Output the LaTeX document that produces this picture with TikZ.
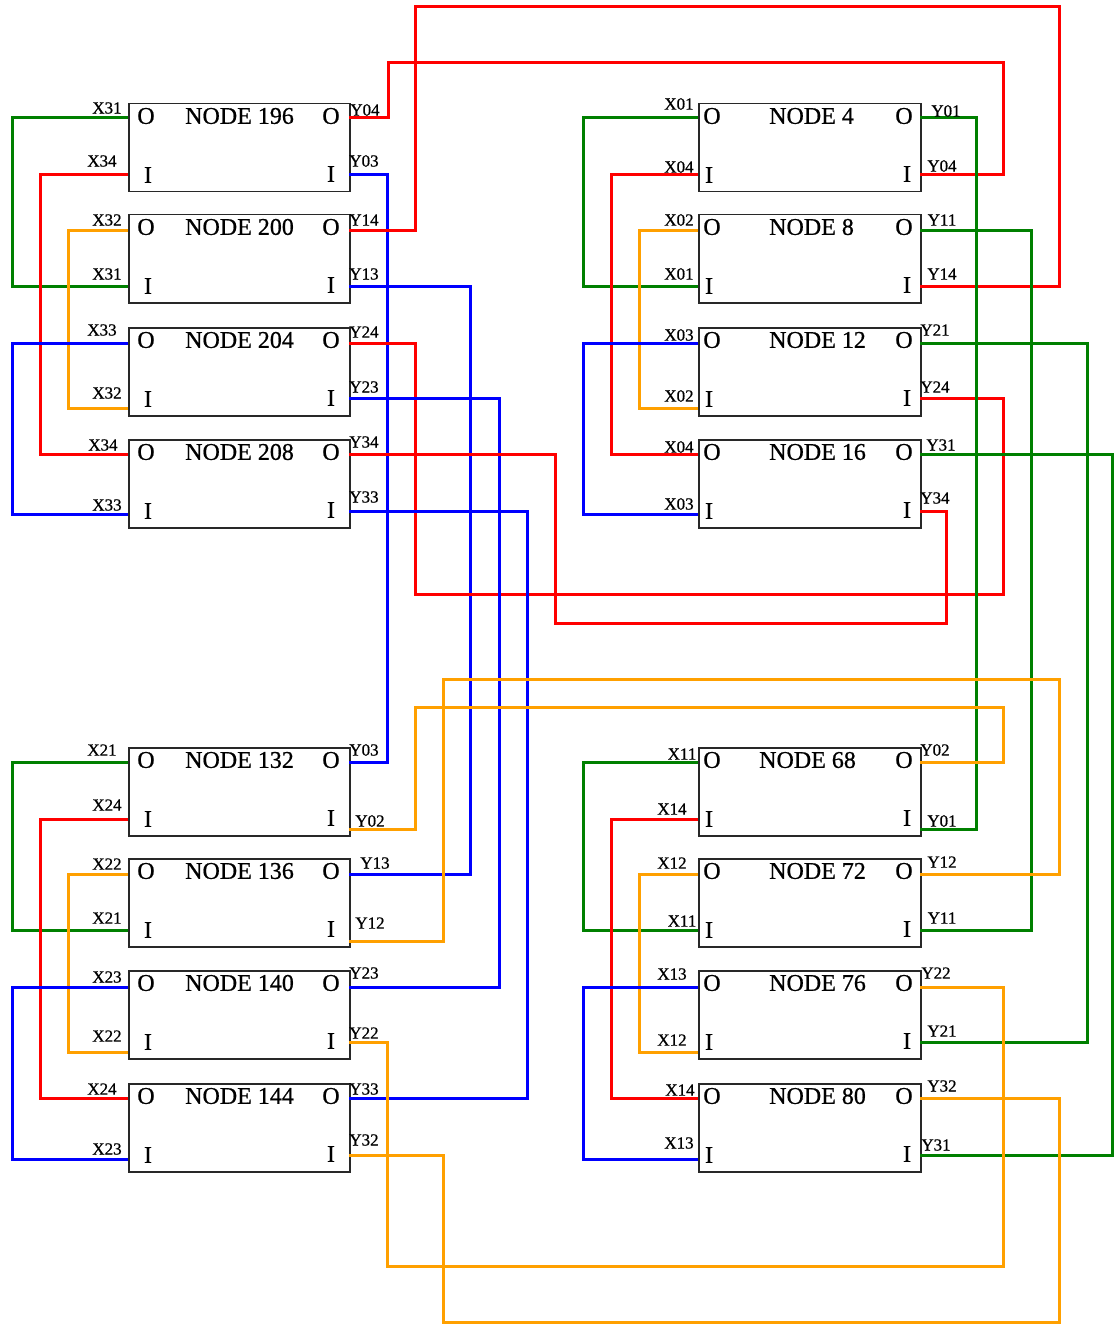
\documentclass[tikz,border=0pt]{standalone}
\usepackage{fontspec}
\setmainfont{Liberation Serif}
\newfontfamily\heavyfont{Liberation Serif}[FakeBold=0.7]
\definecolor{wred}{RGB}{255,0,0}
\definecolor{wgreen}{RGB}{0,128,0}
\definecolor{wblue}{RGB}{0,0,255}
\definecolor{worange}{RGB}{255,160,0}
\definecolor{boxc}{RGB}{40,40,40}
\tikzset{
  boxst/.style={draw=boxc, line width=1.5pt, fill=white, minimum height=88pt, inner sep=0pt, anchor=north west},
  big/.style={font=\heavyfont\fontsize{24}{28}\selectfont, inner sep=0pt},
  lab/.style={font=\heavyfont\fontsize{17}{20}\selectfont, inner sep=0pt},
  wire/.style={line width=3pt},
  wr/.style={wire, draw=wred},
  wg/.style={wire, draw=wgreen},
  wb/.style={wire, draw=wblue},
  wo/.style={wire, draw=worange}
}
% #1 name, #2 xl, #3 top, #4 width, #5 Oy, #6 ILy, #7 IRy, #8 title, #9 text x
\newcommand{\mkbox}[9]{%
  \node[boxst, minimum width=#4pt] (#1) at (#2,#3) {};
  \coordinate (#1OL) at (#2,#5);
  \coordinate (#1IL) at (#2,#6);
  \coordinate (#1OR) at (#2+#4,#5);
  \coordinate (#1IR) at (#2+#4,#7);
  \node[big, anchor=west] (#1t) at (#9,#3+13) {NODE #8};
  \node[big] (#1a) at (#2+\lo,#3+13) {O};
  \node[big] (#1b) at (#2+\li,#3+72) {I};
  \node[big] (#1c) at (#2+#4-\ro,#3+13) {O};
  \node[big] (#1d) at (#2+#4-\ri,#3+71) {I};
}
\begin{document}
\begin{tikzpicture}[x=1pt,y=-1pt]
\useasboundingbox (0,0) rectangle (1114,1324);
% ---- left column boxes
\def\lo{18}\def\li{20}\def\ro{18}\def\ri{18}
\mkbox{n196}{128}{103}{221}{118}{175}{175}{196}{185}
\mkbox{n200}{128}{214}{221}{231}{286}{286}{200}{185}
\mkbox{n204}{128}{327}{221}{343}{408}{398}{204}{185}
\mkbox{n208}{128}{439}{221}{454}{514}{511}{208}{185}
\mkbox{n132}{128}{747}{221}{762}{819}{829}{132}{185}
\mkbox{n136}{128}{858}{221}{874}{930}{941}{136}{185}
\mkbox{n140}{128}{970}{221}{987}{1052}{1042}{140}{185}
\mkbox{n144}{128}{1083}{221}{1098}{1159}{1155}{144}{185}
% ---- right column boxes
\def\lo{14}\def\li{11}\def\ro{16}\def\ri{13}
\mkbox{n4}{698}{103}{222}{118}{175}{175}{4}{769}
\mkbox{n8}{698}{214}{222}{231}{286}{286}{8}{769}
\mkbox{n12}{698}{327}{222}{343}{408}{398}{12}{769}
\mkbox{n16}{698}{439}{222}{454}{514}{511}{16}{769}
\mkbox{n68}{698}{747}{222}{762}{819}{829}{68}{759}
\mkbox{n72}{698}{858}{222}{874}{930}{930}{72}{769}
\mkbox{n76}{698}{970}{222}{987}{1052}{1042}{76}{769}
\mkbox{n80}{698}{1083}{222}{1098}{1159}{1155}{80}{769}

% ---- wires, left top group
\draw[wg] (n196OL) -| (12,286) -- (n200IL);
\draw[wr] (n196IL) -| (40,454) -- (n208OL);
\draw[wo] (n200OL) -| (68,408) -- (n204IL);
\draw[wb] (n204OL) -| (12,514) -- (n208IL);
\draw[wr] (n196OR) -| (388,63) -| (1003,175) -- (n4IR);
\draw[wb] (n196IR) -| (387,762) -- (n132OR);
\draw[wr] (n200OR) -| (415,7) -| (1059,286) -- (n8IR);
\draw[wb] (n200IR) -| (470,874) -- (n136OR);
\draw[wr] (n204OR) -| (415,594) -| (1003,398) -- (n12IR);
\draw[wb] (n204IR) -| (499,987) -- (n140OR);
\draw[wr] (n208OR) -| (555,623) -| (946,511) -- (n16IR);
\draw[wb] (n208IR) -| (527,1098) -- (n144OR);
% ---- right top group
\draw[wg] (n4OL) -| (583,286) -- (n8IL);
\draw[wr] (n4IL) -| (611,454) -- (n16OL);
\draw[wo] (n8OL) -| (639,408) -- (n12IL);
\draw[wb] (n12OL) -| (583,514) -- (n16IL);
\draw[wg] (n4OR) -| (976,829) -- (n68IR);
\draw[wg] (n8OR) -| (1031,930) -- (n72IR);
\draw[wg] (n12OR) -| (1087,1042) -- (n76IR);
\draw[wg] (n16OR) -| (1112,1155) -- (n80IR);
% ---- left bottom group
\draw[wg] (n132OL) -| (12,930) -- (n136IL);
\draw[wr] (n132IL) -| (40,1098) -- (n144OL);
\draw[wo] (n136OL) -| (68,1052) -- (n140IL);
\draw[wb] (n140OL) -| (12,1159) -- (n144IL);
\draw[wo] (n132IR) -| (415,707) -| (1003,762) -- (n68OR);
\draw[wo] (n136IR) -| (443,679) -| (1059,874) -- (n72OR);
\draw[wo] (n140IR) -| (387,1266) -| (1003,987) -- (n76OR);
\draw[wo] (n144IR) -| (443,1322) -| (1059,1098) -- (n80OR);
% ---- right bottom group
\draw[wg] (n68OL) -| (583,930) -- (n72IL);
\draw[wr] (n68IL) -| (611,1098) -- (n80OL);
\draw[wo] (n72OL) -| (639,1052) -- (n76IL);
\draw[wb] (n76OL) -| (583,1159) -- (n80IL);

% ---- port labels, left top
\node[lab] (a1) at (107,108) {X31};
\node[lab] (a2) at (102,161) {X34};
\node[lab] (a3) at (107,220) {X32};
\node[lab] (a4) at (107,274) {X31};
\node[lab] (a5) at (102,330) {X33};
\node[lab] (a6) at (107,393) {X32};
\node[lab] (a7) at (103,445) {X34};
\node[lab] (a8) at (107,505) {X33};
\node[lab] (b1) at (365,110) {Y04};
\node[lab] (b2) at (364,161) {Y03};
\node[lab] (b3) at (364,220) {Y14};
\node[lab] (b4) at (364,274) {Y13};
\node[lab] (b5) at (364,332) {Y24};
\node[lab] (b6) at (364,387) {Y23};
\node[lab] (b7) at (364,442) {Y34};
\node[lab] (b8) at (364,497) {Y33};
% ---- right top
\node[lab] (c1) at (679,104) {X01};
\node[lab] (c2) at (679,167) {X04};
\node[lab] (c3) at (679,220) {X02};
\node[lab] (c4) at (679,274) {X01};
\node[lab] (c5) at (679,335) {X03};
\node[lab] (c6) at (679,396) {X02};
\node[lab] (c7) at (679,447) {X04};
\node[lab] (c8) at (679,504) {X03};
\node[lab] (d1) at (946,111) {Y01};
\node[lab] (d2) at (942,166) {Y04};
\node[lab] (d3) at (942,220) {Y11};
\node[lab] (d4) at (942,274) {Y14};
\node[lab] (d5) at (935,330) {Y21};
\node[lab] (d6) at (935,387) {Y24};
\node[lab] (d7) at (941,445) {Y31};
\node[lab] (d8) at (935,498) {Y34};
% ---- left bottom
\node[lab] (e1) at (102,750) {X21};
\node[lab] (e2) at (107,805) {X24};
\node[lab] (e3) at (107,864) {X22};
\node[lab] (e4) at (107,918) {X21};
\node[lab] (e5) at (107,977) {X23};
\node[lab] (e6) at (107,1036) {X22};
\node[lab] (e7) at (102,1089) {X24};
\node[lab] (e8) at (107,1149) {X23};
\node[lab] (f1) at (364,750) {Y03};
\node[lab] (f2) at (370,821) {Y02};
\node[lab] (f3) at (375,863) {Y13};
\node[lab] (f4) at (370,923) {Y12};
\node[lab] (f5) at (364,973) {Y23};
\node[lab] (f6) at (364,1033) {Y22};
\node[lab] (f7) at (364,1089) {Y33};
\node[lab] (f8) at (364,1140) {Y32};
% ---- right bottom
\node[lab] (g1) at (682,754) {X11};
\node[lab] (g2) at (672,809) {X14};
\node[lab] (g3) at (672,863) {X12};
\node[lab] (g4) at (682,921) {X11};
\node[lab] (g5) at (672,974) {X13};
\node[lab] (g6) at (672,1040) {X12};
\node[lab] (g7) at (680,1090) {X14};
\node[lab] (g8) at (679,1143) {X13};
\node[lab] (h1) at (935,750) {Y02};
\node[lab] (h2) at (942,821) {Y01};
\node[lab] (h3) at (942,862) {Y12};
\node[lab] (h4) at (942,918) {Y11};
\node[lab] (h5) at (936,973) {Y22};
\node[lab] (h6) at (942,1031) {Y21};
\node[lab] (h7) at (942,1086) {Y32};
\node[lab] (h8) at (936,1145) {Y31};
\end{tikzpicture}
\end{document}
